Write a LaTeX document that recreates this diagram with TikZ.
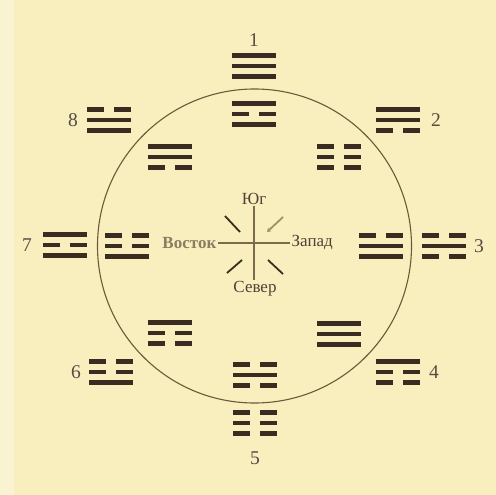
\documentclass[tikz,border=0pt]{standalone}
\usepackage{fontspec}
\setmainfont{Liberation Serif}
\usepackage{tikz}
\usetikzlibrary{arrows.meta,calc,positioning}
\definecolor{paper}{RGB}{248,238,190}
\definecolor{paperedge}{RGB}{250,243,210}
\definecolor{ink}{RGB}{58,44,32}
\definecolor{rimink}{RGB}{110,88,56}
\definecolor{pale}{RGB}{140,124,96}
\definecolor{olive}{RGB}{150,150,110}
\tikzset{
  bar/.style     = {fill=ink},
  num/.style     = {font=\fontsize{19.5}{20}\selectfont, text=ink!85, inner sep=1pt},
  side/.style    = {font=\fontsize{17}{17}\selectfont, text=ink!90, inner sep=1.5pt},
  ring/.style    = {draw=rimink, line width=1.1pt, circle, minimum size=314pt, inner sep=0pt},
  axis/.style    = {draw=rimink!90, line width=1.1pt},
  tick/.style    = {draw=ink, line width=1.8pt},
}
% one line of a trigram: #1 = y offset, #2 = 1 solid / 0 broken
\newcommand{\yaoline}[2]{%
  \ifnum#2=1
    \fill[bar] (-22,#1-2.4) rectangle (22,#1+2.4);
  \else
    \fill[bar] (-22,#1-2.4) rectangle (-5,#1+2.4);
    \fill[bar] (5,#1-2.4) rectangle (22,#1+2.4);
  \fi}
% trigram at #1, lines #2 #3 #4 from top to bottom
\newcommand{\trigram}[4]{%
  \begin{scope}[shift={#1}]
    \yaoline{-10.5}{#2}
    \yaoline{0}{#3}
    \yaoline{10.5}{#4}
  \end{scope}}

\begin{document}
\begin{tikzpicture}[x=1pt,y=-1pt]
    \useasboundingbox (0,0) rectangle (496,495);
    \fill[paper] (0,0) rectangle (496,495);
    \fill[paperedge] (0,0) rectangle (14,495);

    % Circle
    \node[ring] (rim) at (254.5,246) {};

    % Outer ring: earlier heaven
    \trigram{(254,66)}{1}{1}{1}
    \trigram{(398,120)}{1}{1}{0}
    \trigram{(444,246)}{0}{1}{0}
    \trigram{(398,372)}{1}{0}{0}
    \trigram{(255,423)}{0}{0}{0}
    \trigram{(111,372)}{0}{0}{1}
    \trigram{(65,245)}{1}{0}{1}
    \trigram{(109,120)}{0}{1}{1}

    % Inner ring: later heaven
    \trigram{(254,114)}{1}{0}{1}
    \trigram{(339,157)}{0}{0}{0}
    \trigram{(381,246)}{0}{1}{1}
    \trigram{(339,334)}{1}{1}{1}
    \trigram{(255,375)}{0}{1}{0}
    \trigram{(170,333)}{1}{0}{0}
    \trigram{(127,246)}{0}{0}{1}
    \trigram{(170,157)}{1}{1}{0}

    % Numbers
    \node[num] (n1) at (254,40) {1};
    \node[num] (n2) at (436,120) {2};
    \node[num] (n3) at (479,246) {3};
    \node[num] (n4) at (434,372) {4};
    \node[num] (n5) at (255,458) {5};
    \node[num] (n6) at (76,372) {6};
    \node[num] (n7) at (27,245) {7};
    \node[num] (n8) at (73,120) {8};

    % Cardinal points
    \node[side] (yug) at (254,199) {Юг};
    \node[side] (sever) at (255,289) {Север};
    \node[side, anchor=east, text=pale, font=\fontsize{17}{17}\selectfont\bfseries] (vostok) at (218,243) {Восток};
    \node[side, anchor=west] (zapad) at (290,243) {Запад};
    \draw[axis] (vostok) -- (zapad);
    \draw[axis] (yug) -- (yug |- sever.north);

    % Diagonal strokes
    \coordinate (o) at (254,245);
    \draw[tick] ([shift={(-29,-29)}]o) -- ([shift={(-14,-13)}]o);
    \draw[tick, draw=olive, -{Stealth[length=4pt,width=5pt]}] ([shift={(29,-28)}]o) -- ([shift={(13,-13)}]o);
    \draw[tick] ([shift={(-12,15)}]o) -- ([shift={(-27,28)}]o);
    \draw[tick] ([shift={(14,15)}]o) -- ([shift={(29,29)}]o);
\end{tikzpicture}
\end{document}
